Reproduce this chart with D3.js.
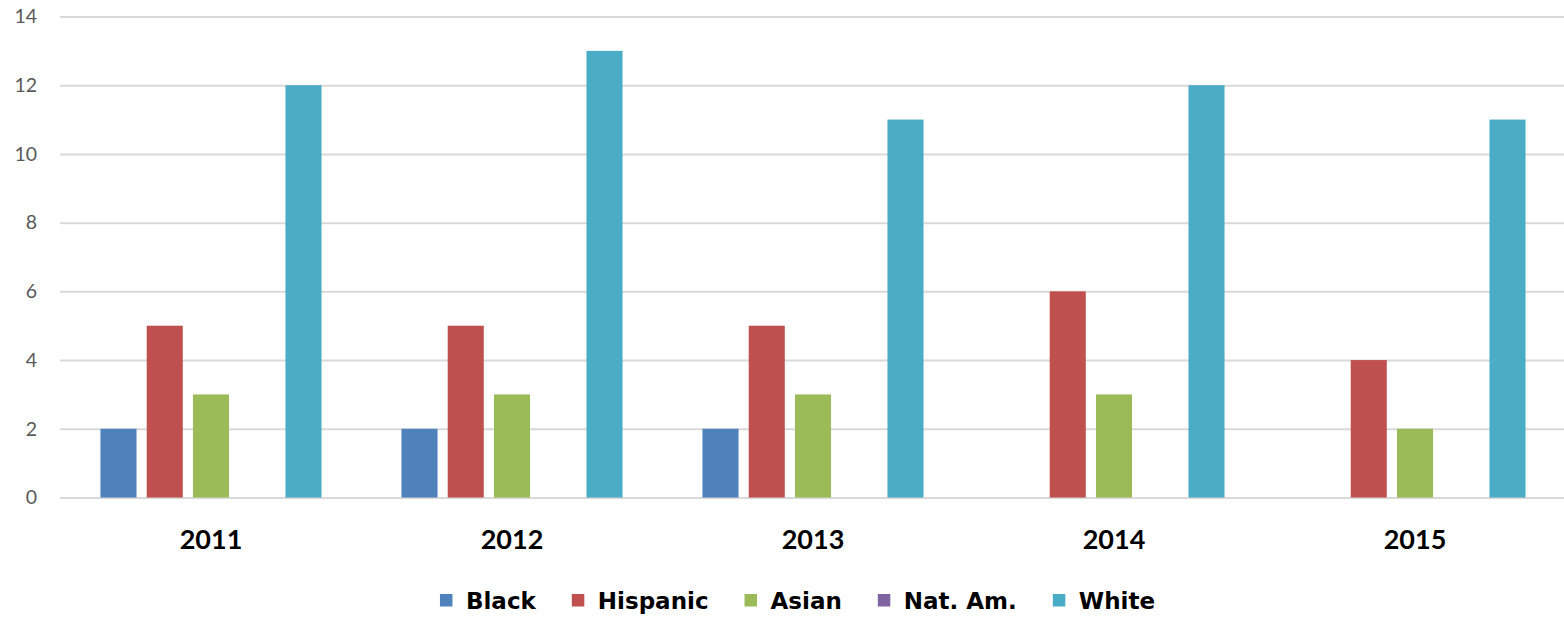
<!DOCTYPE html>
<html>
<head>
<meta charset="utf-8">
<script src="https://cdn.jsdelivr.net/npm/d3@7"></script>
<style>
  body { margin: 0; background: #fff; }
  svg { display: block; }
</style>
</head>
<body>
<svg id="chart" width="1564" height="617"></svg>
<script>
// Categories and series
const years = ["2011", "2012", "2013", "2014", "2015"];
const seriesNames = ["Black", "Hispanic", "Asian", "Nat. Am.", "White"];
const black    = [2, 2, 2, 0, 0];
const hispanic = [5, 5, 5, 6, 4];
const asian    = [3, 3, 3, 3, 2];
const natAm    = [0, 0, 0, 0, 0];
const white    = [12, 13, 11, 12, 11];
const yTicks   = [0, 2, 4, 6, 8, 10, 12, 14];
const colors   = ["#4F81BD", "#C0504D", "#9BBB59", "#8064A2", "#4BACC6"];

const seriesValues = [black, hispanic, asian, natAm, white];
const rows = years.map((y, i) => ({
  year: y,
  values: seriesNames.map((s, j) => ({ key: s, value: seriesValues[j][i], color: colors[j] }))
}));

const svg = d3.select("#chart");
const W = 1564;
const plot = { left: 60, right: 1564, top: 16.5, bottom: 497.5 };

const x0 = d3.scaleBand().domain(years).range([60.5, 1565.5]).padding(0);
const x1 = d3.scaleBand().domain(seriesNames).range([0, x0.bandwidth()])
  .paddingInner(0.22).paddingOuter(0.864);
const y = d3.scaleLinear().domain([0, 14]).range([plot.bottom, plot.top]);

// Horizontal gridlines with value labels
const yAxis = svg.append("g")
  .attr("transform", `translate(${plot.left},0)`)
  .call(d3.axisLeft(y).tickValues(yTicks).tickFormat(d3.format("d"))
    .tickSize(-(plot.right - plot.left)).tickPadding(23));
yAxis.select(".domain").remove();
yAxis.selectAll(".tick line").attr("stroke", "#d9d9d9").attr("stroke-width", 2);
yAxis.selectAll(".tick text")
  .attr("fill", "#595959")
  .style("font-family", "Lato, 'Open Sans', sans-serif")
  .style("font-size", "19.5px");

// Bars
const groups = svg.append("g").selectAll("g")
  .data(rows).join("g")
  .attr("transform", d => `translate(${x0(d.year)},0)`);
groups.selectAll("rect")
  .data(d => d.values).join("rect")
  .attr("x", d => x1(d.key))
  .attr("width", x1.bandwidth())
  .attr("y", d => y(d.value))
  .attr("height", d => y(0) - y(d.value))
  .attr("fill", d => d.color);

// Year labels
const xAxis = svg.append("g")
  .attr("transform", `translate(0,${plot.bottom})`)
  .call(d3.axisBottom(x0).tickSize(0).tickPadding(0));
xAxis.select(".domain").remove();
xAxis.selectAll(".tick text")
  .attr("dy", null)
  .attr("y", 51)
  .attr("fill", "#000")
  .style("font-family", "Lato, 'Open Sans', sans-serif")
  .style("font-weight", "bold")
  .style("font-size", "27px");

// Legend
const legend = svg.append("g");
const items = legend.selectAll("g").data(seriesNames).join("g");
items.append("rect")
  .attr("width", 12.5).attr("height", 12.5)
  .attr("y", -15)
  .attr("fill", (d, i) => colors[i]);
items.append("text")
  .attr("x", 26)
  .attr("fill", "#000")
  .style("font-family", "'DejaVu Sans', sans-serif")
  .style("font-weight", "bold")
  .style("font-size", "23px")
  .text(d => d);
let cursor = 0;
const gap = 36;
items.each(function () {
  const t = d3.select(this).select("text").node().getComputedTextLength();
  d3.select(this).attr("transform", `translate(${cursor},0)`);
  cursor += 26 + t + gap;
});
const legendWidth = cursor - gap;
legend.attr("transform", `translate(${797.5 - legendWidth / 2},609)`);
</script>
</body>
</html>
